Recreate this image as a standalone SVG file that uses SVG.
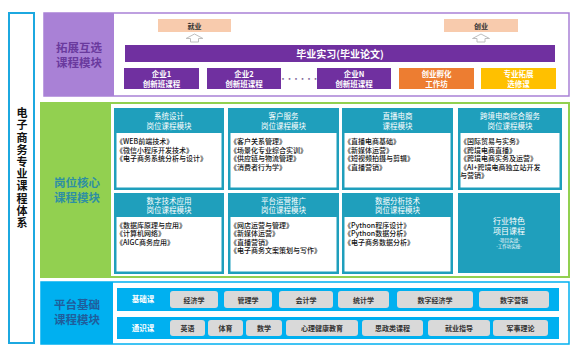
<svg xmlns="http://www.w3.org/2000/svg" width="584" height="355" viewBox="0 0 584 355">
<defs>
<style>
text{font-family:"Noto Sans CJK SC","Liberation Sans",sans-serif;font-weight:bold;}
.lbl{font-size:11.5px;text-anchor:middle;}
.vt{font-size:11px;fill:#111;writing-mode:vertical-rl;letter-spacing:1.2px;}
.wt{fill:#fff;text-anchor:middle;font-size:7.5px;}
.hd{fill:#fff;text-anchor:middle;font-size:7.5px;font-weight:normal;}
.bd{fill:#111;font-size:7px;font-weight:500;}
.pill{fill:#D9D9D9;}
.pt{fill:#333;font-size:7px;text-anchor:middle;}
.teal{fill:#1F9FBC;}
.arr{fill:#fff;stroke:#BFBFBF;stroke-width:1;}
</style>
</defs>
<rect width="584" height="355" fill="#fff"/>

<g id="system">
<rect x="9" y="13" width="25" height="330" fill="#fff" stroke="#1CA8E0" stroke-width="2"/>
<text x="22" y="107.5" class="vt">电子商务专业课程体系</text>
</g>

<g id="expand">
<rect x="44" y="13" width="525" height="83" fill="#fff" stroke="#A981D6" stroke-width="1.5"/>
<rect x="44" y="13" width="70" height="83" fill="#A981D6"/>
<text x="79" y="51.5" class="lbl" fill="#6A3A9E">拓展互选</text>
<text x="79" y="67" class="lbl" fill="#6A3A9E">课程模块</text>
</g>

<g id="jiuye">
<rect x="158" y="19" width="73" height="13" fill="#F8CBAD"/>
<text x="194.5" y="28.5" class="pt" fill="#222">就业</text>
</g>
<g id="chuangye">
<rect x="444" y="19" width="74" height="13" fill="#F8CBAD"/>
<text x="481" y="28.5" class="pt" fill="#222">创业</text>
</g>
<g id="internship">
<rect x="125" y="45" width="430" height="17" fill="#7030A0"/>
<text x="340" y="57.5" fill="#fff" text-anchor="middle" font-size="10">毕业实习(毕业论文)</text>
</g>
<g id="qiye1">
<rect x="124" y="68" width="75" height="21" fill="#7030A0"/>
<text x="161.5" y="77" class="wt">企业1</text>
<text x="161.5" y="86.5" class="wt">创新班课程</text>
</g>
<g id="qiye2">
<rect x="207" y="68" width="74" height="21" fill="#7030A0"/>
<text x="244" y="77" class="wt">企业2</text>
<text x="244" y="86.5" class="wt">创新班课程</text>
</g>
<text x="299" y="81" fill="#7F6A9A" font-size="7" text-anchor="middle" letter-spacing="-0.5">······</text>
<g id="qiyeN">
<rect x="317" y="68" width="74" height="21" fill="#7030A0"/>
<text x="354" y="77" class="wt">企业N</text>
<text x="354" y="86.5" class="wt">创新班课程</text>
</g>
<g id="fuhua">
<rect x="399" y="68" width="75" height="21" fill="#ED7D31"/>
<text x="436.5" y="77" class="wt">创业孵化</text>
<text x="436.5" y="86.5" class="wt">工作坊</text>
</g>
<g id="xuanxiu">
<rect x="481" y="68" width="75" height="21" fill="#FFC000"/>
<text x="518.5" y="77" class="wt">专业拓展</text>
<text x="518.5" y="86.5" class="wt">选修课</text>
</g>

<g id="connectors">
<path class="arr" d="M194.5 34 L186 38.5 L190.5 38.5 L190.5 42 L198.5 42 L198.5 38.5 L203 38.5 Z"/>
<path class="arr" d="M481 34 L472.5 38.5 L477 38.5 L477 42 L485 42 L485 38.5 L489.5 38.5 Z"/>
</g>

<g id="core">
<rect x="41" y="103" width="528" height="174" fill="#fff" stroke="#92D050" stroke-width="2"/>
<rect x="41" y="103" width="70" height="174" fill="#92D050"/>
<text x="77" y="186.5" class="lbl" fill="#2E8FA3">岗位核心</text>
<text x="77" y="202" class="lbl" fill="#2E8FA3">课程模块</text>
</g>

<g id="m1">
<rect x="114" y="108" width="110" height="82" class="teal"/>
<rect x="116.5" y="133" width="105" height="54.5" fill="#fff"/>
<text x="169" y="119" class="hd">系统设计</text>
<text x="169" y="128.5" class="hd">岗位课程模块</text>
<text x="116" y="144" class="bd">《WEB前端技术》</text>
<text x="116" y="152.5" class="bd">《微信小程序开发技术》</text>
<text x="116" y="161" class="bd">《电子商务系统分析与设计》</text>
</g>
<g id="m2">
<rect x="228" y="108" width="111" height="82" class="teal"/>
<rect x="230.5" y="133" width="106" height="54.5" fill="#fff"/>
<text x="283.5" y="119" class="hd">客户服务</text>
<text x="283.5" y="128.5" class="hd">岗位课程模块</text>
<text x="230" y="144" class="bd">《客户关系管理》</text>
<text x="230" y="152.5" class="bd">《场景化专业综合实训》</text>
<text x="230" y="161" class="bd">《供应链与物流管理》</text>
<text x="230" y="169.5" class="bd">《消费者行为学》</text>
</g>
<g id="m3">
<rect x="342" y="108" width="111" height="82" class="teal"/>
<rect x="344.5" y="133" width="106" height="54.5" fill="#fff"/>
<text x="397.5" y="119" class="hd">直播电商</text>
<text x="397.5" y="128.5" class="hd">课程模块</text>
<text x="344" y="144" class="bd">《直播电商基础》</text>
<text x="344" y="152.5" class="bd">《新媒体运营》</text>
<text x="344" y="161" class="bd">《短视频拍摄与剪辑》</text>
<text x="344" y="169.5" class="bd">《直播营销》</text>
</g>
<g id="m4">
<rect x="458" y="108" width="104" height="82" class="teal"/>
<rect x="460.5" y="133" width="99" height="54.5" fill="#fff"/>
<text x="510" y="119" class="hd">跨境电商综合服务</text>
<text x="510" y="128.5" class="hd">岗位课程模块</text>
<text x="460" y="144" class="bd">《国际贸易与实务》</text>
<text x="460" y="152.5" class="bd">《跨境电商直播》</text>
<text x="460" y="161" class="bd">《跨境电商实务及运营》</text>
<text x="460" y="169.5" class="bd">《AI+跨境电商独立站开发</text>
<text x="460" y="178" class="bd">与营销》</text>
</g>
<g id="m5">
<rect x="114" y="193" width="110" height="81" class="teal"/>
<rect x="116.5" y="217" width="105" height="54.5" fill="#fff"/>
<text x="169" y="203.5" class="hd">数字技术应用</text>
<text x="169" y="213" class="hd">岗位课程模块</text>
<text x="116" y="227.5" class="bd">《数据库原理与应用》</text>
<text x="116" y="236" class="bd">《计算机网络》</text>
<text x="116" y="244.5" class="bd">《AIGC商务应用》</text>
</g>
<g id="m6">
<rect x="228" y="193" width="111" height="81" class="teal"/>
<rect x="230.5" y="217" width="106" height="54.5" fill="#fff"/>
<text x="283.5" y="203.5" class="hd">平台运营推广</text>
<text x="283.5" y="213" class="hd">岗位课程模块</text>
<text x="230" y="227.5" class="bd">《网店运营与管理》</text>
<text x="230" y="236" class="bd">《新媒体运营》</text>
<text x="230" y="244.5" class="bd">《直播营销》</text>
<text x="230" y="253" class="bd">《电子商务文案策划与写作》</text>
</g>
<g id="m7">
<rect x="342" y="193" width="111" height="81" class="teal"/>
<rect x="344.5" y="217" width="106" height="54.5" fill="#fff"/>
<text x="397.5" y="203.5" class="hd">数据分析技术</text>
<text x="397.5" y="213" class="hd">岗位课程模块</text>
<text x="344" y="227.5" class="bd">《Python程序设计》</text>
<text x="344" y="236" class="bd">《Python数据分析》</text>
<text x="344" y="244.5" class="bd">《电子商务数据分析》</text>
</g>
<g id="m8">
<rect x="458" y="193" width="102" height="80" class="teal"/>
<text class="hd"><tspan x="509" y="224" font-size="8">行业特色</tspan><tspan x="509" y="234.2" font-size="8">项目课程</tspan><tspan x="509" y="241.5" style="font-size:4.5px">-项目实战-</tspan><tspan x="509" y="247.5" style="font-size:4.5px">-工作坊实操-</tspan></text>
</g>

<g id="platform">
<rect x="41" y="282" width="528" height="62" fill="#fff" stroke="#00B0F0" stroke-width="1.5"/>
<rect x="41" y="282" width="72" height="62" fill="#00B0F0"/>
<text x="77" y="308.5" class="lbl" fill="#1F5E9C">平台基础</text>
<text x="77" y="324" class="lbl" fill="#1F5E9C">课程模块</text>
</g>
<g id="basic">
<rect x="117" y="288" width="442" height="23" fill="#00B0F0"/>
<text x="143" y="302" class="wt">基础课</text>
<rect x="170" y="291" width="48" height="17" rx="3" class="pill"/><text x="194" y="302.5" class="pt">经济学</text>
<rect x="224" y="291" width="48" height="17" rx="3" class="pill"/><text x="248" y="302.5" class="pt">管理学</text>
<rect x="279" y="291" width="54" height="17" rx="3" class="pill"/><text x="306" y="302.5" class="pt">会计学</text>
<rect x="338" y="291" width="51" height="17" rx="3" class="pill"/><text x="363.5" y="302.5" class="pt">统计学</text>
<rect x="397" y="291" width="76" height="17" rx="3" class="pill"/><text x="435" y="302.5" class="pt">数字经济学</text>
<rect x="479" y="291" width="70" height="17" rx="3" class="pill"/><text x="514" y="302.5" class="pt">数字营销</text>
</g>
<g id="general">
<rect x="117" y="317" width="442" height="22" fill="#00B0F0"/>
<text x="143" y="331" class="wt">通识课</text>
<rect x="170" y="320" width="35" height="16" rx="3" class="pill"/><text x="187.5" y="331" class="pt">英语</text>
<rect x="208" y="320" width="35" height="16" rx="3" class="pill"/><text x="225.5" y="331" class="pt">体育</text>
<rect x="246" y="320" width="36" height="16" rx="3" class="pill"/><text x="264" y="331" class="pt">数学</text>
<rect x="286" y="320" width="72" height="16" rx="3" class="pill"/><text x="322" y="331" class="pt">心理健康教育</text>
<rect x="362" y="320" width="61" height="16" rx="3" class="pill"/><text x="392.5" y="331" class="pt">思政类课程</text>
<rect x="428" y="320" width="62" height="16" rx="3" class="pill"/><text x="459" y="331" class="pt">就业指导</text>
<rect x="493" y="320" width="55" height="16" rx="3" class="pill"/><text x="520.5" y="331" class="pt">军事理论</text>
</g>
</svg>
